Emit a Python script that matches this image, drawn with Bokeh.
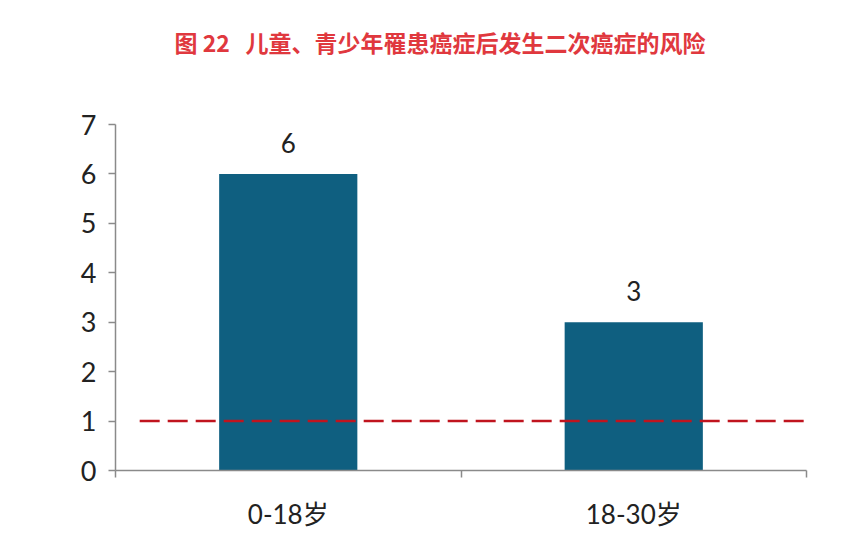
from bokeh.plotting import figure
from bokeh.models import ColumnDataSource, FixedTicker, Range1d, LabelSet, Title
from bokeh.core.properties import value
from bokeh.embed import file_html
from bokeh.resources import INLINE

categories = ["0-18岁", "18-30岁"]
risk = [6, 3]
baseline = 1
y_ticks = [0, 1, 2, 3, 4, 5, 6, 7]
title_text = "图\u00a022\u00a0\u00a0\u00a0儿童、青少年罹患癌症后发生二次癌症的风险"

xs = [i + 0.5 for i in range(len(categories))]
src = ColumnDataSource(data=dict(x=xs, y=risk, lab=[str(v) for v in risk]))

p = figure(width=854, height=532, output_backend="svg", toolbar_location=None,
           x_range=Range1d(0, len(categories)), y_range=Range1d(0, 7),
           min_border_left=115, min_border_right=48, min_border_top=124,
           min_border_bottom=61)
p.outline_line_color = None
p.grid.visible = False
p.background_fill_color = "white"
p.border_fill_color = "white"

p.vbar(x="x", top="y", width=0.4, bottom=0, source=src, fill_color="#0F5F80",
       line_color=None)
p.segment(x0=0.07, x1=len(categories), y0=baseline, y1=baseline,
          line_color="#C0141E", line_width=2.5, line_dash="20 8")

labels = LabelSet(x="x", y="y", text="lab", source=src, text_align="center",
                  text_baseline="alphabetic", y_offset=21,
                  text_font_size=value("26px"), text_font=value("Lato"),
                  text_color=value("#222222"))
p.add_layout(labels)

ya = p.yaxis[0]
ya.ticker = FixedTicker(ticks=y_ticks)
ya.axis_line_color = "#8a8a8a"
ya.axis_line_width = 1.5
ya.major_tick_line_color = "#8a8a8a"
ya.major_tick_line_width = 1.5
ya.major_tick_out = 7
ya.major_tick_in = 0
ya.minor_tick_line_color = None
ya.major_label_text_font = "Lato"
ya.major_label_text_font_size = "27px"
ya.major_label_text_color = "#222222"
ya.major_label_standoff = 12

xa = p.xaxis[0]
xa.ticker = FixedTicker(ticks=xs, minor_ticks=list(range(len(categories) + 1)))
xa.major_label_overrides = {x: c for x, c in zip(xs, categories)}
xa.axis_line_color = "#8a8a8a"
xa.axis_line_width = 1.5
xa.major_tick_line_color = None
xa.minor_tick_line_color = "#8a8a8a"
xa.minor_tick_line_width = 1.5
xa.minor_tick_out = 7
xa.minor_tick_in = 0
xa.major_label_text_font = "Lato, Noto Sans CJK SC"
xa.major_label_text_font_size = "26px"
xa.major_label_text_color = "#222222"
xa.major_label_standoff = 20

spacer = Title(text="\u00a0", standoff=53, text_font_size="10px")
p.add_layout(spacer, "above")

t = Title(text=title_text, align="left", offset=59, standoff=0,
          text_font="Noto Sans CJK SC", text_font_size="23px",
          text_font_style="bold", text_color="#E0383E")
p.add_layout(t, "above")

open("out.html", "w").write(file_html(p, INLINE))
